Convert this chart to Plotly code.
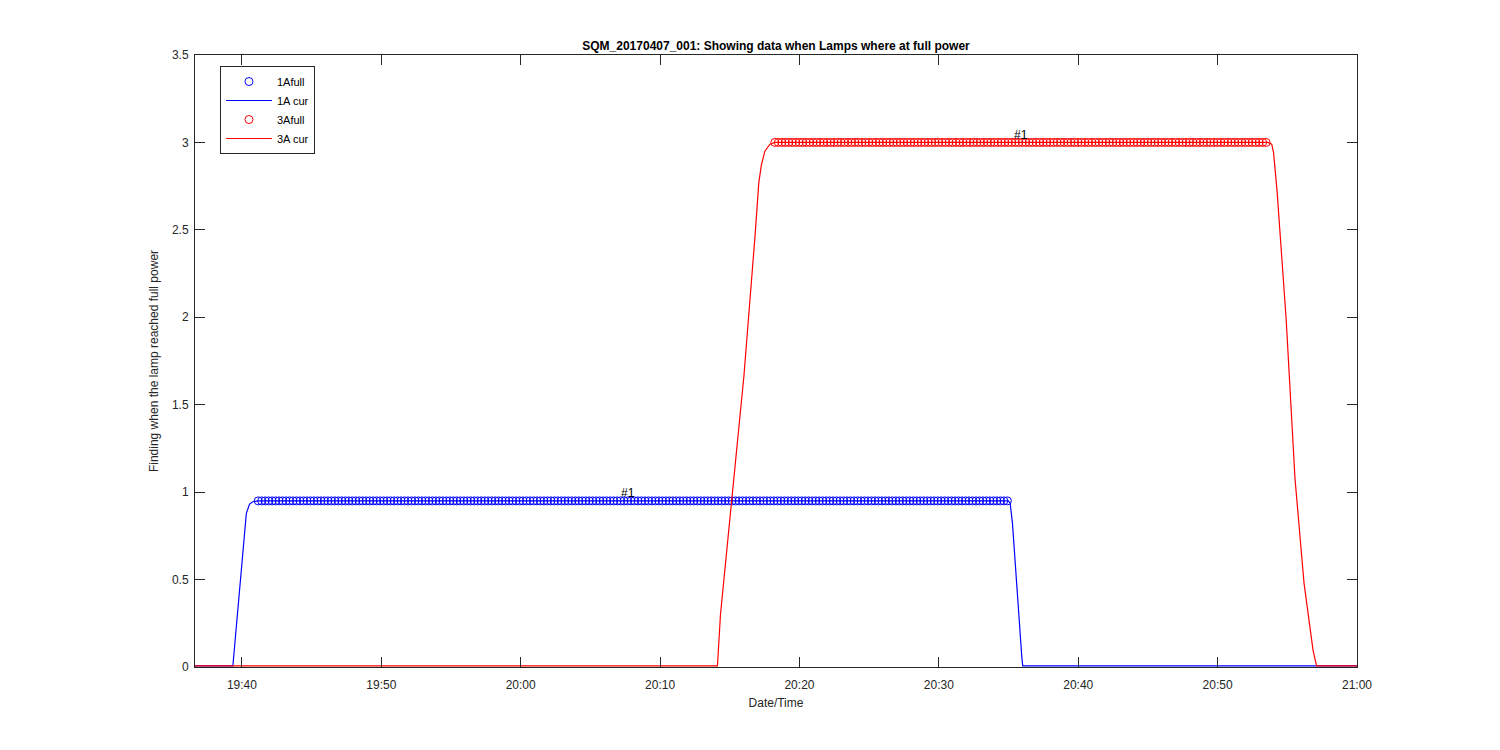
import pandas as pd
import plotly.graph_objects as go

DAY = "2017-04-07 "

# --- full-power marker samples (start/end, 15 s sampling) ---
full_1a_start, full_1a_end, full_1a_value = "19:41:10", "20:34:59", 0.95
full_3a_start, full_3a_end, full_3a_value = "20:18:14", "20:53:37", 3.0
sample_step = "15s"

# --- lamp current curves (key points) ---
cur_1a_times = ["19:36:38", "19:39:21", "19:40:19", "19:40:33", "19:40:47", "19:41:09",
                "20:34:59", "20:35:07", "20:35:17", "20:35:36", "20:35:57", "20:36:01", "21:00:00"]
cur_1a_vals = [0.006, 0.006, 0.879, 0.932, 0.945, 0.95,
               0.95, 0.936, 0.82, 0.44, 0.059, 0.007, 0.007]

cur_3a_times = ["19:36:38", "20:14:07", "20:14:20", "20:15:07", "20:16:01", "20:16:49",
                "20:17:05", "20:17:16", "20:17:31", "20:17:53", "20:18:14",
                "20:53:37", "20:53:53", "20:54:01", "20:54:16", "20:54:55", "20:55:33",
                "20:56:12", "20:56:51", "20:57:06", "21:00:00"]
cur_3a_vals = [0.006, 0.006, 0.30, 0.948, 1.666, 2.47,
               2.77, 2.87, 2.95, 2.99, 3.0,
               3.0, 2.99, 2.94, 2.72, 1.99, 1.08,
               0.48, 0.094, 0.006, 0.006]

label_times = ["20:07:41", "20:35:54"]
label_vals = [0.995, 3.045]
label_text = ["#1", "#1"]

x_range = ["19:36:38", "21:00:00"]
y_ticks = [0, 0.5, 1, 1.5, 2, 2.5, 3, 3.5]
y_tick_text = ["0", "0.5", "1", "1.5", "2", "2.5", "3", "3.5"]

t = lambda s: pd.Timestamp(DAY + s)

full_1a_t = pd.date_range(t(full_1a_start), t(full_1a_end), freq=sample_step)
full_3a_t = pd.date_range(t(full_3a_start), t(full_3a_end), freq=sample_step)

font = "Liberation Sans, Arial, Helvetica, sans-serif"

fig = go.Figure()
fig.add_trace(go.Scatter(x=full_1a_t, y=[full_1a_value] * len(full_1a_t), mode="markers",
                         name="1Afull",
                         marker=dict(symbol="circle-open", size=8, color="#0000ff",
                                     line=dict(width=1, color="#0000ff"))))
fig.add_trace(go.Scatter(x=[t(s) for s in cur_1a_times], y=cur_1a_vals, mode="lines",
                         name="1A cur", line=dict(color="#0000ff", width=1.2)))
fig.add_trace(go.Scatter(x=full_3a_t, y=[full_3a_value] * len(full_3a_t), mode="markers",
                         name="3Afull",
                         marker=dict(symbol="circle-open", size=8, color="#ff0000",
                                     line=dict(width=1, color="#ff0000"))))
fig.add_trace(go.Scatter(x=[t(s) for s in cur_3a_times], y=cur_3a_vals, mode="lines",
                         name="3A cur", line=dict(color="#ff0000", width=1.2)))

for lt, lv, tx in zip(label_times, label_vals, label_text):
    fig.add_annotation(x=t(lt), y=lv, text=tx, showarrow=False, xanchor="center",
                       yanchor="middle", font=dict(family=font, size=12, color="#000000"))

axis_common = dict(showline=True, linecolor="#262626", linewidth=1, mirror="allticks",
                   ticks="inside", ticklen=10, tickcolor="#262626", showgrid=False,
                   zeroline=False, tickfont=dict(family=font, size=12, color="#262626"))

fig.update_layout(
    width=1500, height=750,
    margin=dict(l=187, r=151, t=47, b=91),
    paper_bgcolor="white", plot_bgcolor="white",
    title=dict(text="<b>SQM_20170407_001: Showing data when Lamps where at full power</b>",
               x=0.512, xanchor="center", y=0.949, yanchor="middle",
               font=dict(family=font, size=12, color="#000000")),
    xaxis=dict(type="date", range=[t(x_range[0]), t(x_range[1])],
               tick0=t("19:40:00"), dtick=600000, tickformat="%H:%M",
               ticklabelstandoff=7,
               title=dict(text="Date/Time", font=dict(family=font, size=12, color="#262626"),
                          standoff=7),
               **axis_common),
    yaxis=dict(range=[0, 3.5], tickvals=y_ticks, ticktext=y_tick_text,
               ticklabelstandoff=3,
               title=dict(text="Finding when the lamp reached full power",
                          font=dict(family=font, size=12, color="#262626"), standoff=10),
               **axis_common),
    legend=dict(x=0.0215, y=0.982, xanchor="left", yanchor="top",
                bordercolor="#262626", borderwidth=1, bgcolor="white",
                font=dict(family=font, size=11, color="#000000"),
                itemwidth=46, tracegroupgap=0),
    showlegend=True,
)

fig.write_html("out.html")
